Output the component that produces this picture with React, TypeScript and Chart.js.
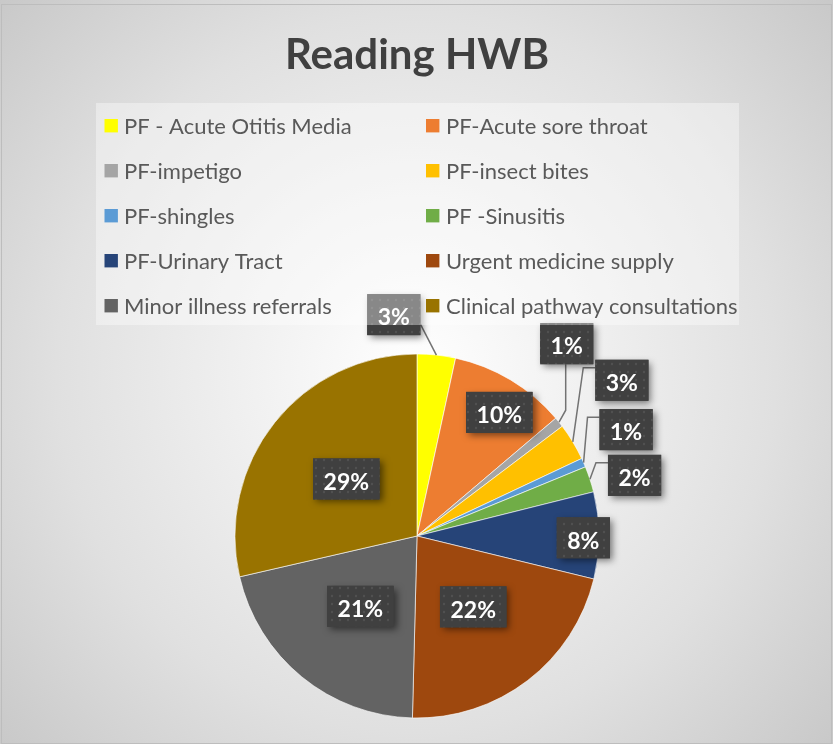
import React, { useEffect, useRef } from "react";
import { Chart, registerables } from "chart.js";

Chart.register(...registerables);

const categories = [
  "PF - Acute Otitis Media",
  "PF-Acute sore throat",
  "PF-impetigo",
  "PF-insect bites",
  "PF-shingles",
  "PF -Sinusitis",
  "PF-Urinary Tract",
  "Urgent medicine supply",
  "Minor illness referrals",
  "Clinical pathway consultations",
];
const shares = [3.4, 10.4, 0.9, 3.3, 0.8, 2.3, 7.7, 21.6, 21.0, 28.6];
const sliceColors = [
  "#FFFF00",
  "#ED7D31",
  "#A5A5A5",
  "#FFC000",
  "#5B9BD5",
  "#70AD47",
  "#264478",
  "#9E480E",
  "#636363",
  "#997300",
];
const titleText = "Reading HWB";

// label placement (style): radial factor and angular shift from slice middle (deg)
const labelRadius = [1.223, 0.816, 1.339, 1.414, 1.289, 1.241, 0.914, 0.497, 0.496, 0.499];
const labelShift = [-12.1, 2.7, -13.4, -6.1, -3.2, 2.6, 0.8, -1, -0.4, 0.4];
const leaderType = ["direct", "none", "vertical", "elbow", "elbow", "elbow", "none", "none", "none", "none"];

const FONT = "Lato, 'Open Sans', sans-serif";

function makeDotPattern(ctx: CanvasRenderingContext2D) {
  const c = document.createElement("canvas");
  c.width = 8;
  c.height = 8;
  const p = c.getContext("2d")!;
  p.fillStyle = "#404040";
  p.fillRect(0, 0, 8, 8);
  p.fillStyle = "#515151";
  p.beginPath();
  p.arc(4, 4, 1.2, 0, Math.PI * 2);
  p.fill();
  return ctx.createPattern(c, "repeat");
}

const backgroundPlugin = {
  id: "bg",
  beforeDraw(chart: any) {
    const ctx = chart.ctx as CanvasRenderingContext2D;
    const w = chart.width;
    const h = chart.height;
    ctx.save();
    const g = ctx.createRadialGradient(416, 372, 0, 416, 372, 580);
    g.addColorStop(0, "#ffffff");
    g.addColorStop(0.62, "#e0e0e0");
    g.addColorStop(1, "#c6c6c6");
    ctx.fillStyle = g;
    ctx.fillRect(0, 0, w, h);
    ctx.strokeStyle = "#bdbdbd";
    ctx.lineWidth = 1;
    ctx.strokeRect(1.5, 4.5, w - 3, h - 5);
    ctx.restore();
  },
};

const dataLabelPlugin = {
  id: "dlabels",
  afterDatasetsDraw(chart: any) {
    const ctx = chart.ctx as CanvasRenderingContext2D;
    const meta = chart.getDatasetMeta(0);
    const values: number[] = chart.data.datasets[0].data;
    const total = values.reduce((a, b) => a + b, 0);
    const pattern = makeDotPattern(ctx);
    const size = 23;
    ctx.save();
    ctx.font = `bold ${size}px ${FONT}`;
    const boxes: any[] = [];
    meta.data.forEach((arc: any, i: number) => {
      const p = arc.getProps(["x", "y", "startAngle", "endAngle", "outerRadius"], true);
      const mid = (p.startAngle + p.endAngle) / 2;
      const a = mid + (labelShift[i] * Math.PI) / 180;
      const lx = p.x + Math.cos(a) * p.outerRadius * labelRadius[i];
      const ly = p.y + Math.sin(a) * p.outerRadius * labelRadius[i];
      const text = Math.round((values[i] / total) * 100) + "%";
      const tw = ctx.measureText(text).width;
      const bw = tw + 21;
      const bh = 41;
      const box = { l: lx - bw / 2, t: ly - bh / 2, w: bw, h: bh, text, cx: lx, cy: ly };
      boxes.push(box);
      const ax = p.x + Math.cos(mid) * p.outerRadius;
      const ay = p.y + Math.sin(mid) * p.outerRadius;
      const type = leaderType[i];
      if (type !== "none") {
        ctx.strokeStyle = "#737373";
        ctx.lineWidth = 1.5;
        ctx.beginPath();
        if (type === "direct") {
          ctx.moveTo(box.l + bw, box.t + 30);
          ctx.lineTo(ax, ay);
        } else if (type === "vertical") {
          ctx.moveTo(lx - 1, box.t + bh);
          ctx.lineTo(lx - 1, ay - 12);
          ctx.lineTo(ax, ay);
        } else {
          ctx.moveTo(box.l, box.t + 8);
          ctx.lineTo(box.l - 12, box.t + 8);
          ctx.lineTo(ax, ay);
        }
        ctx.stroke();
      }
    });
    boxes.forEach((b) => {
      ctx.save();
      ctx.shadowColor = "rgba(0,0,0,0.5)";
      ctx.shadowBlur = 7;
      ctx.shadowOffsetX = 3;
      ctx.shadowOffsetY = 3;
      ctx.fillStyle = "#404040";
      ctx.fillRect(b.l, b.t, b.w, b.h);
      ctx.restore();
      ctx.fillStyle = pattern || "#404040";
      ctx.fillRect(b.l, b.t, b.w, b.h);
      ctx.fillStyle = "#ffffff";
      ctx.textAlign = "center";
      ctx.textBaseline = "alphabetic";
      ctx.fillText(b.text, b.cx, b.cy + size * 0.36 + 2.5);
    });
    ctx.restore();
  },
};

const legendPlugin = {
  id: "customLegend",
  afterDraw(chart: any) {
    const ctx = chart.ctx as CanvasRenderingContext2D;
    const labels: string[] = chart.data.labels;
    const colors: string[] = chart.data.datasets[0].backgroundColor;
    const size = 22;
    ctx.save();
    ctx.fillStyle = "rgba(255,255,255,0.38)";
    ctx.fillRect(96, 103, 643, 222);
    ctx.font = `${size}px ${FONT}`;
    ctx.textBaseline = "alphabetic";
    ctx.textAlign = "left";
    labels.forEach((lab, i) => {
      const col = i % 2;
      const row = Math.floor(i / 2);
      const sx = col ? 426 : 104.5;
      const tx = col ? 446 : 124;
      const cy = 125.7 + 45 * row;
      ctx.fillStyle = colors[i];
      ctx.fillRect(sx, cy - 6.7, 13.4, 13.4);
      ctx.fillStyle = "#595959";
      ctx.fillText(lab, tx, cy + size * 0.36);
    });
    ctx.restore();
  },
};

export default function App() {
  const ref = useRef<HTMLCanvasElement>(null);
  useEffect(() => {
    document.body.style.margin = "0";
    const canvas = ref.current!;
    const chart = new Chart(canvas, {
      type: "pie",
      data: {
        labels: categories,
        datasets: [
          {
            data: shares,
            backgroundColor: sliceColors,
            borderColor: "rgba(255,255,255,0.6)",
            borderWidth: 1,
          },
        ],
      },
      options: {
        responsive: false,
        animation: false,
        layout: { padding: { top: 0, left: 1, right: 0, bottom: 25.5 } },
        plugins: {
          legend: { display: false },
          tooltip: { enabled: false },
          title: {
            display: true,
            text: titleText,
            color: "#404040",
            font: { family: FONT, size: 42, weight: "bold", lineHeight: 1.2 },
            padding: { top: 30, bottom: 273.1 },
          },
        },
      },
      plugins: [backgroundPlugin, dataLabelPlugin, legendPlugin],
    });
    return () => chart.destroy();
  }, []);
  return (
    <div style={{ width: 833, height: 744 }}>
      <canvas ref={ref} width={833} height={744} style={{ display: "block" }} />
    </div>
  );
}
